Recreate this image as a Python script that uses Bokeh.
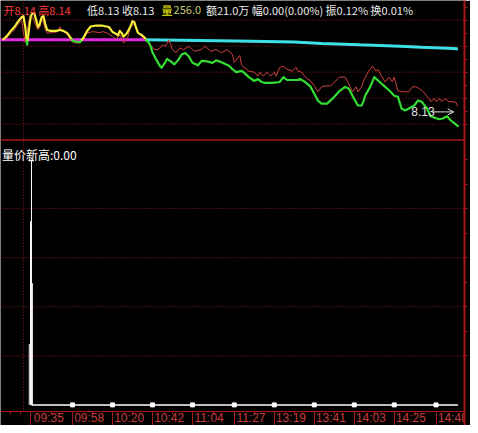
from bokeh.plotting import figure
from bokeh.models import Range1d, LinearAxis, FixedTicker, Span, Label, Arrow, OpenHead
from bokeh.embed import file_html
from bokeh.resources import INLINE

# ---------------- data ----------------
tick_minutes = [5, 28, 50, 72, 94, 117, 139, 161, 183, 205, 228]
tick_labels = ["09:35", "09:58", "10:20", "10:42", "11:04", "11:27",
               "13:19", "13:41", "14:03", "14:25", "14:48"]

prev_close = 8.1400

price_t = [-10, -8, -6, -4, -2, 0, 1, 2, 3, 4, 5, 6, 7, 8, 9, 10, 11, 12, 13, 14,
           16, 19, 21, 23, 25, 27, 28, 30, 32, 34, 36, 38, 41, 44, 48, 50, 52, 53,
           54, 55, 56, 58, 60, 61, 62, 63, 64, 66, 68, 69, 70, 71, 72, 74, 76, 77,
           79, 80, 82, 84, 86, 88, 90, 92, 94, 97, 99, 102, 105, 107, 110, 114, 116,
           118, 121, 122, 125, 128, 130, 132, 134, 138, 142, 144, 146, 149, 152, 153,
           156, 159, 161, 163, 165, 168, 171, 175, 178, 180, 182, 185, 187, 188, 189,
           192, 194, 197, 200, 203, 205, 207, 209, 211, 213, 216, 218, 220, 223, 225,
           228, 230, 232, 234, 236, 238, 240]
price_v = [8.14005, 8.1404, 8.1409, 8.1413, 8.14185, 8.1423, 8.1424, 8.1413, 8.1395, 8.1410,
           8.1424, 8.1427, 8.1427, 8.1420, 8.1413, 8.1416, 8.1423, 8.1424, 8.1416, 8.1410,
           8.1409, 8.1409, 8.1410, 8.1409, 8.1407, 8.1402, 8.1399, 8.1398, 8.13975, 8.1402,
           8.1409, 8.14135, 8.14145, 8.14145, 8.1413, 8.1408, 8.1406, 8.14045,
           8.1409, 8.1407, 8.1403, 8.1407, 8.1414, 8.1419, 8.1418, 8.1412, 8.1407, 8.1405,
           8.14015, 8.13985, 8.1397, 8.1393, 8.1387, 8.1380, 8.13735, 8.13715,
           8.1377, 8.13805, 8.1378, 8.1375, 8.1379, 8.1385, 8.13865, 8.1383, 8.13765,
           8.1374, 8.13785, 8.1378, 8.13765, 8.1379, 8.1377, 8.13735, 8.1370,
           8.1367, 8.13683, 8.1367, 8.1362, 8.1358, 8.1360, 8.1357, 8.1356, 8.1356,
           8.1357, 8.1362, 8.1359, 8.1359, 8.1359, 8.1360,
           8.1357, 8.1352, 8.1345, 8.1338, 8.1335, 8.1335, 8.1340, 8.1348, 8.1352,
           8.1350, 8.1343, 8.1333, 8.1333, 8.1337, 8.1343,
           8.1353, 8.1362, 8.1357, 8.1352, 8.1347, 8.1343, 8.1342, 8.1330, 8.1328,
           8.1330, 8.1333, 8.1338, 8.1337, 8.1330, 8.1322,
           8.1320, 8.1319, 8.1320, 8.1322, 8.1318, 8.1315, 8.1312]

red_t = [-11, -8, -5, -3, -1, 0, 1, 2, 3, 4, 6, 7, 9, 10, 11, 12, 13, 14, 17, 20,
         21, 22, 24, 26, 27, 29, 32, 34, 36, 39, 43, 45, 47, 50, 52, 54, 56, 58, 60,
         62, 64, 66, 68, 70, 73, 75, 78, 79, 81, 83, 85, 87, 89, 92, 95, 99, 101, 104,
         107, 110, 113, 116, 117, 120, 121, 125, 128, 130, 131, 133, 135, 137, 139,
         140, 142, 144, 146, 149, 151, 152, 154, 156, 159, 161, 163, 165, 167, 170,
         171, 175, 178, 180, 182, 184, 185, 187, 189, 191, 193, 195, 196, 198, 200,
         202, 204, 205, 207, 210, 213, 215, 217, 219, 221, 224, 225, 227, 228, 230,
         231, 233, 235, 237, 239, 240]
red_v = [8.14005, 8.14025, 8.1408, 8.1413, 8.1418, 8.14195, 8.1407, 8.13973, 8.1407, 8.1420,
         8.14233, 8.14183, 8.1410, 8.1413, 8.14217, 8.1418, 8.1410, 8.14067, 8.14073, 8.14083,
         8.14133, 8.1410, 8.14073, 8.14033, 8.13993, 8.13967, 8.13967, 8.14007, 8.14067,
         8.14083, 8.14073, 8.14083, 8.14067, 8.14033, 8.14007, 8.1405, 8.13967, 8.1400,
         8.14133, 8.14167, 8.14067, 8.14033, 8.1400, 8.13967, 8.1390, 8.1390, 8.1395,
         8.13933, 8.1400, 8.1390, 8.13867, 8.13917, 8.1390, 8.13933, 8.13883, 8.1390,
         8.13933, 8.13883, 8.1390, 8.13867, 8.1390, 8.1385, 8.1377, 8.1384, 8.1374,
         8.1368, 8.1367, 8.1363, 8.1367, 8.1363, 8.1367, 8.1363, 8.1367,
         8.1363, 8.1372, 8.1373, 8.1370, 8.1368, 8.1372, 8.1368, 8.1367, 8.1362,
         8.1358, 8.1353, 8.1347, 8.1352, 8.1353, 8.1353,
         8.1355, 8.1362, 8.1362, 8.1355, 8.1347, 8.1352, 8.1347, 8.1352, 8.1362,
         8.1368, 8.1373, 8.1368, 8.1370, 8.1363, 8.1357,
         8.1362, 8.1357, 8.1362, 8.1348, 8.1347, 8.1347, 8.1352, 8.1352, 8.1350,
         8.1347, 8.1340, 8.1337, 8.1340, 8.1337, 8.1340,
         8.1337, 8.1340, 8.1337, 8.1337, 8.1336, 8.1332]

avg_t = [-12, 68, 118, 150, 165, 186, 208, 220, 238, 240]
avg_v = [8.1400, 8.1400, 8.13988, 8.13978, 8.13963, 8.13948, 8.13935, 8.13923, 8.1391, 8.13905]
avg_split = 68

vol_t = [4.2, 4.9, 5.4, 5.9]
vol_v = [62, 187, 249, 124]
ind_t = [5.4, 240]
ind_v = [0, 0]

price_grid = [8.1420, 8.13935, 8.1367, 8.13405, 8.1314]
vol_grid = [50, 100, 150, 200]
vol_panel_top = 270
auction_end = 1

last_label = "8.13"
indicator_title = "量价新高:0.00"
header = [("开8.14 高8.14", "#ff3c3c", -10.0),
          ("低8.13 收8.13", "#e8e8e8", 36.0),
          ("量", "#f0f000", 77.0),
          ("256.0", "#c8c878", 83.6),
          ("额21.0万 幅0.00(0.00%) 振0.12% 换0.01%", "#e8e8e8", 101.4)]

# ---------------- colours ----------------
BG = "#000000"
GRID = "#8c2020"
AXIS = "#a81818"
TXT_AX = "#c83c3c"
YELLOW = "#f8ec3c"
GREEN = "#33dd33"
MAGENTA = "#e028e0"
CYAN = "#3ee0e8"
THIN = "#d04040"
WHITE = "#ffffff"

# ---------------- figure ----------------
AXIS_AT = -7          # volume-scale position of the time axis line
vr = Range1d(-21, 412)
pr = Range1d(8.1007, 8.1440)


def vol_to_price(v):
    return pr.start + (v - vr.start) * (pr.end - pr.start) / (vr.end - vr.start)


p = figure(width=470, height=425, x_range=Range1d(-11.63, 243.64), y_range=vr,
           output_backend="svg", toolbar_location=None,
           x_axis_location=None, y_axis_location=None,
           min_border_left=0, min_border_top=0, min_border_right=6, min_border_bottom=0,
           background_fill_color=BG, border_fill_color=BG, outline_line_color=None)
p.extra_y_ranges = {"price": pr}
p.grid.visible = False

# grid lines
for g in price_grid:
    p.add_layout(Span(location=g, dimension="width", y_range_name="price", line_color=GRID,
                      line_dash="1 2", line_width=1, level="underlay"))
for g in vol_grid:
    p.add_layout(Span(location=g, dimension="width", line_color=GRID,
                      line_dash="1 2", line_width=1, level="underlay"))
p.segment(x0=[auction_end], y0=[AXIS_AT], x1=[auction_end], y1=[vr.end],
          line_color=GRID, line_dash="1 2", line_width=1, level="underlay")
p.add_layout(Span(location=vol_panel_top, dimension="width", line_color=AXIS,
                  line_width=1.5, level="underlay"))

# time axis: long tick line at the left of each (left-aligned) label, short ticks between
PAD = "\u00a0" * 10
minor = [tick_minutes[0] - 11, tick_minutes[0] - 5.5] + \
        [(a + b) / 2 for a, b in zip(tick_minutes[:-1], tick_minutes[1:])]
xaxis = LinearAxis(ticker=FixedTicker(ticks=tick_minutes, minor_ticks=minor),
                   major_label_overrides={t: PAD + l for t, l in zip(tick_minutes, tick_labels)},
                   fixed_location=AXIS_AT)
xaxis.axis_line_color = AXIS
xaxis.major_tick_line_color = AXIS
xaxis.minor_tick_line_color = AXIS
xaxis.major_tick_out = 14
xaxis.major_tick_in = 0
xaxis.minor_tick_out = 3
xaxis.minor_tick_in = 0
xaxis.major_label_standoff = -15
xaxis.major_label_text_color = TXT_AX
xaxis.major_label_text_font = "Liberation Sans"
xaxis.major_label_text_font_size = "12px"
p.add_layout(xaxis, "below")

half = (price_grid[0] - price_grid[1]) / 2
rticks = list(price_grid) + [a - half for a in price_grid[:-1]] + [price_grid[0] + half] + \
         [vol_to_price(v) for v in range(50, 251, 25)]
rticks = sorted(rticks)
raxis = LinearAxis(y_range_name="price", ticker=FixedTicker(ticks=rticks, minor_ticks=[]),
                   major_label_overrides={t: "" for t in rticks})
raxis.axis_line_color = AXIS
raxis.axis_line_width = 2
raxis.major_tick_line_color = AXIS
raxis.major_tick_out = 3
raxis.major_tick_in = 0
raxis.minor_tick_out = 0
raxis.major_label_standoff = 0
raxis.major_label_text_font_size = "1px"
p.add_layout(raxis, "right")

# average line: magenta then cyan
k = avg_t.index(avg_split) + 1
p.line(avg_t[:k], avg_v[:k], y_range_name="price", line_color=MAGENTA, line_width=3)
p.line(avg_t[k - 1:], avg_v[k - 1:], y_range_name="price", line_color=CYAN, line_width=3)

# thin red line
p.line(red_t, red_v, y_range_name="price", line_color=THIN, line_width=1)


# price line, yellow above previous close, green below
def runs(ts, vs, level):
    out = []
    cx, cy = [ts[0]], [vs[0]]
    up = vs[0] >= level
    for i in range(1, len(ts)):
        t0, v0, t1, v1 = ts[i - 1], vs[i - 1], ts[i], vs[i]
        up1 = v1 >= level
        if up1 != up:
            f = (level - v0) / (v1 - v0)
            tc = t0 + f * (t1 - t0)
            cx.append(tc)
            cy.append(level)
            out.append((cx, cy, up))
            cx, cy, up = [tc], [level], up1
        cx.append(t1)
        cy.append(v1)
    out.append((cx, cy, up))
    return out


rr = runs(price_t, price_v, prev_close)
p.multi_line([r[0] for r in rr], [r[1] for r in rr], y_range_name="price",
             line_color=[YELLOW if r[2] else GREEN for r in rr], line_width=2.2,
             line_join="round", line_cap="round")

# lower panel indicator
p.segment(x0=vol_t, y0=[0] * len(vol_t), x1=vol_t, y1=vol_v, line_color=WHITE, line_width=1)
top_i = vol_v.index(max(vol_v))
p.scatter([vol_t[top_i]], [vol_v[top_i]], marker="dash", size=5, line_color=WHITE, line_width=1.5)
p.line(ind_t, ind_v, line_color=WHITE, line_width=1.5)
p.scatter(tick_minutes[1:], [0] * (len(tick_minutes) - 1), marker="square", size=4,
          fill_color=WHITE, line_color=WHITE)

# texts
for txt, col, xm in header:
    p.add_layout(Label(x=xm, y=402, text=txt, text_color=col, text_font="Noto Sans CJK SC",
                       text_font_size="11px", text_baseline="alphabetic", text_align="left"))
p.add_layout(Label(x=-10.8, y=255, text=indicator_title, text_color=WHITE,
                   text_font="Noto Sans CJK SC", text_font_size="12px",
                   text_baseline="alphabetic", text_align="left"))
p.add_layout(Label(x=214.4, y=8.13265, y_range_name="price", text=last_label,
                   text_color="#e0e0e0", text_font="Liberation Sans", text_font_size="12px",
                   text_baseline="middle", text_align="left"))
p.add_layout(Arrow(end=OpenHead(size=6, line_color="#e0e0e0", line_width=1),
                   x_start=226.3, y_start=8.13265, x_end=237.7, y_end=8.13265,
                   y_range_name="price", line_color="#e0e0e0", line_width=1))

open("out.html", "w").write(file_html(p, INLINE))
